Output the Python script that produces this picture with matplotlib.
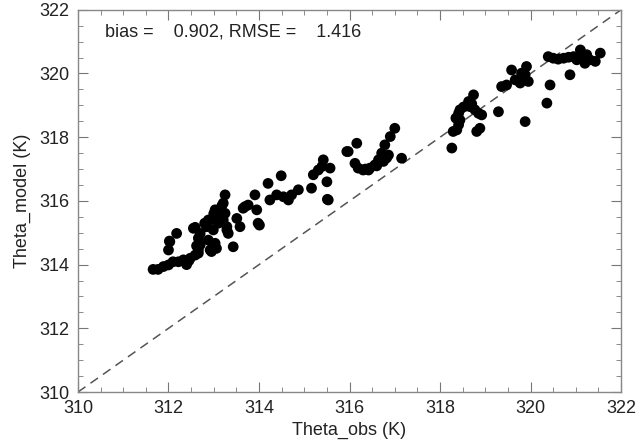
import numpy as np
import matplotlib.pyplot as plt
from matplotlib.ticker import MultipleLocator

theta_obs = [
    311.66, 311.77, 311.89, 312.00, 312.10, 312.22, 312.33, 312.48, 312.59, 312.66,
    312.70, 312.66, 312.70, 312.00, 312.02, 312.18, 312.55, 312.84, 312.92, 313.06,
    313.14, 313.21, 313.25, 312.88, 312.92, 313.06, 312.99, 313.21, 313.29, 313.32,
    312.03, 312.59, 312.62, 312.66, 312.88, 312.95, 313.03, 313.03, 313.14, 313.25,
    313.29, 313.43, 313.51, 313.58, 313.65, 313.76, 313.91, 313.95, 313.98, 313.69,
    314.01, 314.20, 314.24, 314.39, 314.49, 314.54, 314.65, 314.72, 314.87, 315.16,
    315.20, 315.31, 315.39, 315.42, 315.50, 315.53, 315.57, 315.51, 315.94, 315.97,
    316.16, 316.12, 316.19, 316.30, 316.42, 316.45, 316.56, 316.64, 316.71, 316.75,
    316.78, 316.86, 316.90, 317.00, 317.15, 318.26, 318.29, 318.37, 318.41, 318.41,
    318.44, 318.44, 318.63, 318.66, 318.74, 318.77, 318.85, 318.92, 318.81, 318.88,
    319.29, 319.36, 319.47, 319.58, 319.66, 319.77, 319.88, 319.88, 319.91, 319.80,
    319.95, 320.39, 320.50, 320.61, 320.73, 320.84, 320.95, 321.10, 321.13, 321.20,
    321.31, 321.43, 321.54, 320.43, 320.36, 320.87, 321.24, 321.02, 312.40, 313.10,
    312.80, 313.00, 313.18, 312.45, 316.35, 316.60, 316.82, 318.35, 318.52, 318.70,
]
theta_model = [
    313.85, 313.85, 313.94, 313.99, 314.09, 314.09, 314.15, 314.20, 314.30, 314.46,
    314.62, 314.83, 314.98, 314.46, 314.74, 314.98, 315.14, 315.19, 315.40, 315.50,
    315.72, 315.93, 316.19, 314.77, 314.46, 314.51, 315.09, 315.40, 315.19, 314.98,
    314.72, 315.17, 314.59, 314.36, 315.40, 314.41, 314.67, 315.72, 315.40, 315.61,
    315.09, 314.56, 315.45, 315.19, 315.77, 315.87, 316.19, 315.72, 315.30, 315.82,
    315.24, 316.55, 316.03, 316.19, 316.79, 316.13, 316.03, 316.19, 316.35, 316.40,
    316.82, 316.97, 317.08, 317.29, 316.60, 316.03, 317.03, 316.05, 317.55, 317.55,
    317.81, 317.18, 317.03, 316.97, 316.97, 317.03, 317.13, 317.29, 317.50, 317.24,
    317.76, 317.44, 318.02, 318.28, 317.34, 317.66, 318.18, 318.23, 318.39, 318.75,
    318.86, 318.54, 319.12, 318.96, 319.33, 318.86, 318.75, 318.70, 318.18, 318.28,
    318.80, 319.59, 319.64, 320.11, 319.80, 319.70, 319.96, 318.49, 320.22, 320.01,
    319.75, 320.53, 320.48, 320.45, 320.48, 320.51, 320.53, 320.74, 320.48, 320.32,
    320.43, 320.38, 320.64, 319.64, 319.07, 319.96, 320.59, 320.43, 314.00, 315.30,
    315.30, 315.60, 315.85, 314.12, 317.00, 317.10, 317.35, 318.60, 318.95, 319.05,
]

bias = 0.902
rmse = 1.416
lims = [310, 322]

plt.rcParams['font.family'] = ['Liberation Sans', 'DejaVu Sans']

fig = plt.figure(figsize=(6.39, 4.45), dpi=100)
ax = fig.add_axes([0.122, 0.119, 0.850, 0.859])

ax.plot(lims, lims, '--', color='#555555', linewidth=1.1, dashes=(6, 4))
ax.scatter(theta_obs, theta_model, s=60, color='black', edgecolors='none', zorder=3)

ax.set_xlim(lims)
ax.set_ylim(lims)
ax.xaxis.set_major_locator(MultipleLocator(2))
ax.yaxis.set_major_locator(MultipleLocator(2))
ax.xaxis.set_minor_locator(MultipleLocator(0.5))
ax.yaxis.set_minor_locator(MultipleLocator(0.5))
ax.tick_params(which='both', direction='in', top=True, right=True,
               color='#777777', labelsize=13, labelcolor='#222222')
ax.tick_params(which='major', length=7, pad=6)
ax.tick_params(which='minor', length=3.5)
for sp in ax.spines.values():
    sp.set_color('#888888')
    sp.set_linewidth(1.0)

ax.set_xlabel('Theta_obs (K)', fontsize=13, color='#222222', labelpad=3)
ax.set_ylabel('Theta_model (K)', fontsize=13, color='#222222', labelpad=6)

ax.text(0.05, 0.965, f'bias = {bias:8.3f}, RMSE = {rmse:8.3f}', transform=ax.transAxes,
        fontsize=13, color='#222222', va='top', ha='left')

plt.savefig('out.png', dpi=100)
